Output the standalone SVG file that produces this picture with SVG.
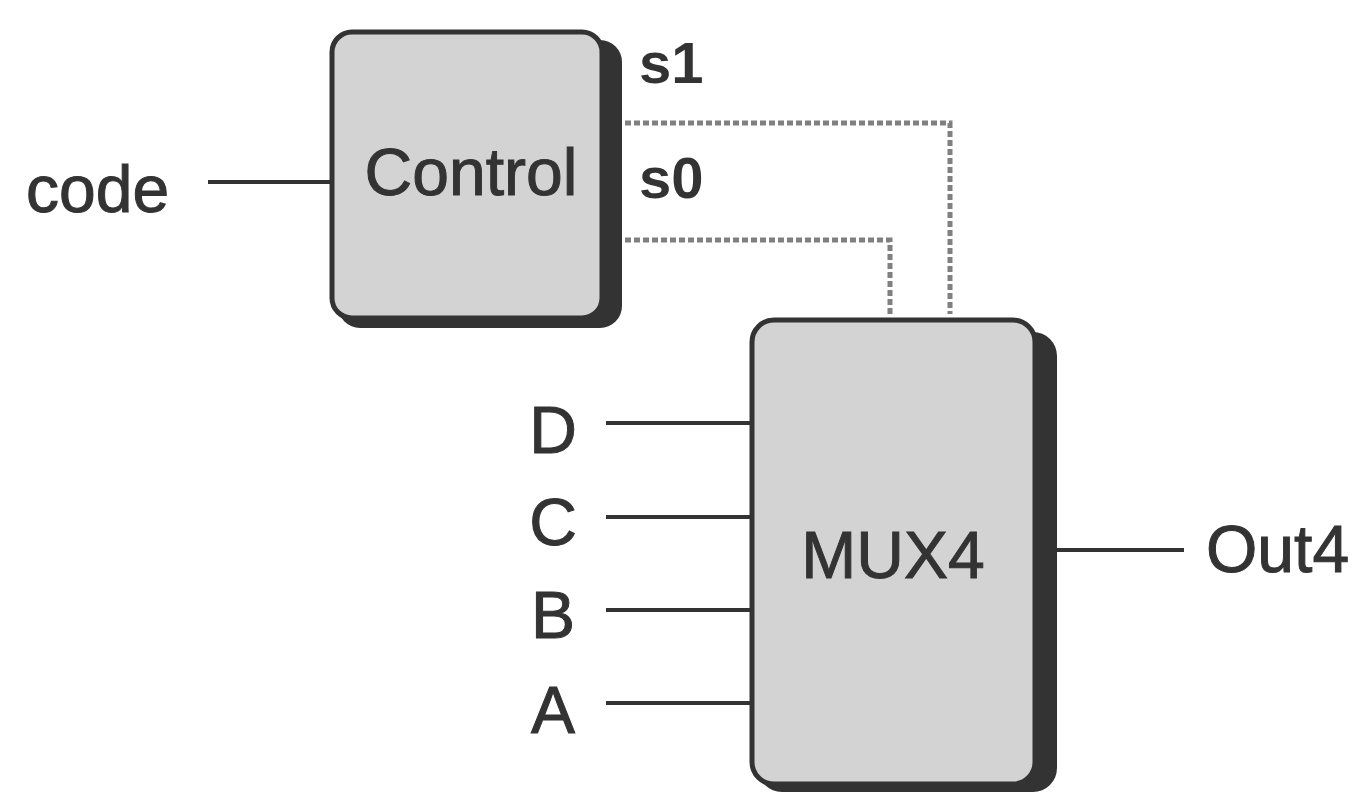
<svg xmlns="http://www.w3.org/2000/svg" width="1352" height="792" viewBox="0 0 1352 792">
<style>
text{font-family:"Liberation Sans",Arial,sans-serif;fill:#333;font-size:66px;stroke:#333;stroke-width:1}
.box{fill:#d3d3d3;stroke:#333;stroke-width:5}
.shadow{fill:#333}
.wire{stroke:#333;stroke-width:4;fill:none}
.sig{stroke:#808080;stroke-width:5;fill:none;stroke-dasharray:6 3}
.lbl{font-weight:bold;font-size:58px;stroke-width:0}
</style>
<rect width="1352" height="792" fill="#fff"/>
<g id="connectors">
<line class="wire" x1="208" y1="182" x2="332" y2="182"/>
<line class="wire" x1="606" y1="423" x2="752" y2="423"/>
<line class="wire" x1="606" y1="517" x2="752" y2="517"/>
<line class="wire" x1="606" y1="610" x2="752" y2="610"/>
<line class="wire" x1="606" y1="703" x2="752" y2="703"/>
<line class="wire" x1="1057" y1="550" x2="1184" y2="550"/>
<polyline class="sig" points="625,123 950,123 950,314"/>
<polyline class="sig" points="625,240 890,240 890,314"/>
</g>
<g id="control">
<rect class="shadow" x="338" y="40" width="284" height="288" rx="22"/>
<rect class="box" x="332" y="32" width="270" height="286" rx="20"/>
<text x="471" y="195" text-anchor="middle">Control</text>
</g>
<g id="mux4">
<rect class="shadow" x="758" y="332" width="299" height="460" rx="24"/>
<rect class="box" x="752" y="320" width="283" height="464" rx="22"/>
<text x="893" y="578" text-anchor="middle">MUX4</text>
</g>
<g id="labels">
<text x="26" y="212">code</text>
<text class="lbl" x="639" y="83">s1</text>
<text class="lbl" x="639" y="198">s0</text>
<text x="553" y="453" text-anchor="middle">D</text>
<text x="553" y="545" text-anchor="middle">C</text>
<text x="553" y="638" text-anchor="middle">B</text>
<text x="553" y="733" text-anchor="middle">A</text>
<text x="1206" y="572">Out4</text>
</g>
</svg>
